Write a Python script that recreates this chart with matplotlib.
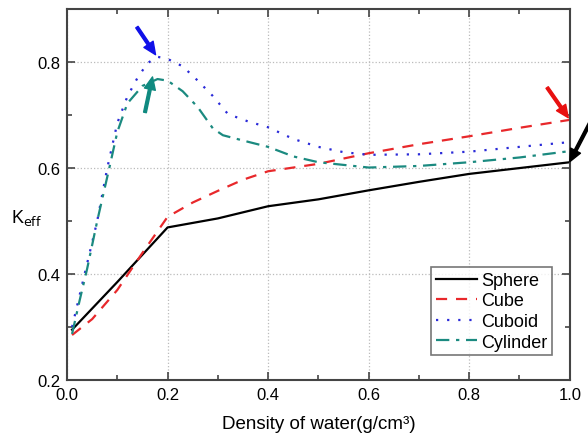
import matplotlib.pyplot as plt
import numpy as np

plt.rcParams['font.family'] = ['Liberation Sans', 'DejaVu Sans']

# Data
x_sphere = np.array([0.01, 0.1, 0.2, 0.3, 0.4, 0.5, 0.6, 0.7, 0.8, 0.9, 1.0])
sphere = np.array([0.295, 0.385, 0.488, 0.505, 0.528, 0.541, 0.558, 0.574, 0.589, 0.600, 0.611])

x_cube = np.array([0.01, 0.05, 0.1, 0.15, 0.2, 0.25, 0.3, 0.35, 0.4, 0.5, 0.6, 0.7, 0.8, 0.9, 1.0])
cube = np.array([0.285, 0.315, 0.370, 0.440, 0.508, 0.535, 0.557, 0.578, 0.594, 0.608, 0.628, 0.645, 0.660, 0.676, 0.691])

x_cuboid = np.array([0.01, 0.025, 0.04, 0.06, 0.08, 0.1, 0.12, 0.14, 0.16, 0.18, 0.2,
                     0.23, 0.26, 0.29, 0.32, 0.36, 0.4, 0.45, 0.5, 0.55, 0.6, 0.7, 0.8, 0.9, 1.0])
cuboid = np.array([0.300, 0.360, 0.420, 0.500, 0.600, 0.685, 0.735, 0.770, 0.798, 0.810, 0.806,
                   0.792, 0.765, 0.736, 0.702, 0.688, 0.677, 0.655, 0.640, 0.630, 0.625, 0.626, 0.631, 0.640, 0.649])

x_cyl = np.array([0.01, 0.025, 0.04, 0.06, 0.085, 0.1, 0.12, 0.15, 0.18, 0.2,
                  0.23, 0.26, 0.29, 0.31, 0.35, 0.4, 0.45, 0.5, 0.6, 0.7, 0.8, 0.9, 1.0])
cylinder = np.array([0.287, 0.350, 0.410, 0.500, 0.604, 0.668, 0.722, 0.755, 0.768, 0.765,
                     0.745, 0.715, 0.675, 0.662, 0.652, 0.640, 0.622, 0.611, 0.601, 0.604, 0.611, 0.620, 0.632])

fig = plt.figure(figsize=(5.88, 4.39), dpi=100)
ax = fig.add_axes([0.114, 0.132, 0.855, 0.845])

ax.plot(x_sphere, sphere, color='black', lw=1.6, label='Sphere')
ax.plot(x_cube, cube, color='#e8282b', lw=1.6, ls=(0, (5, 4)), label='Cube')
ax.plot(x_cuboid, cuboid, color='#2a2ad8', lw=1.6, ls=(0, (1, 4)), label='Cuboid')
ax.plot(x_cyl, cylinder, color='#1b8a80', lw=1.6, ls=(0, (6, 3, 1.5, 3)), label='Cylinder')

# arrows
ax.annotate('', xy=(0.176, 0.814), xytext=(0.139, 0.866),
            arrowprops=dict(color='#1010e8', width=2, headwidth=8, headlength=9))
ax.annotate('', xy=(0.170, 0.772), xytext=(0.155, 0.705),
            arrowprops=dict(color='#108a80', width=2, headwidth=8, headlength=9))
ax.annotate('', xy=(0.997, 0.695), xytext=(0.955, 0.752),
            arrowprops=dict(color='#e81010', width=2, headwidth=8, headlength=9))
ax.annotate('', xy=(1.0, 0.612), xytext=(1.04, 0.685),
            arrowprops=dict(color='black', width=2, headwidth=8, headlength=9),
            annotation_clip=False)

ax.set_xlim(0, 1.0)
ax.set_ylim(0.2, 0.9)
ax.set_xticks([0.0, 0.2, 0.4, 0.6, 0.8, 1.0])
ax.set_xticks(np.arange(0.1, 1.0, 0.2), minor=True)
ax.set_yticks([0.2, 0.4, 0.6, 0.8])
ax.set_yticks([0.3, 0.5, 0.7], minor=True)
ax.tick_params(which='both', direction='in', top=True, right=True, labelsize=12, color='#444444')
ax.tick_params(which='major', length=6, width=1.2, pad=5)
ax.tick_params(which='minor', length=3.5, width=1.2)
ax.grid(True, which='major', ls=':', color='#bbbbbb', lw=0.9)
for s in ax.spines.values():
    s.set_color('#444444')
    s.set_linewidth(1.5)

ax.set_xlabel('Density of water(g/cm³)', fontsize=13.5)
ax.xaxis.set_label_coords(0.5, -0.095)
ax.set_ylabel('K$_{\\mathrm{eff}}$', fontsize=13, rotation=0, va='center', ha='center')
ax.yaxis.set_label_coords(-0.08, 0.44)

leg = ax.legend(loc='lower right', bbox_to_anchor=(0.964, 0.067), fontsize=13, fancybox=False,
                handlelength=2.3, handletextpad=0.2, borderpad=0.25, labelspacing=0.2,
                borderaxespad=0)
leg.get_frame().set_edgecolor('#555555')
leg.get_frame().set_linewidth(1.2)

plt.savefig('out.png', dpi=100)
